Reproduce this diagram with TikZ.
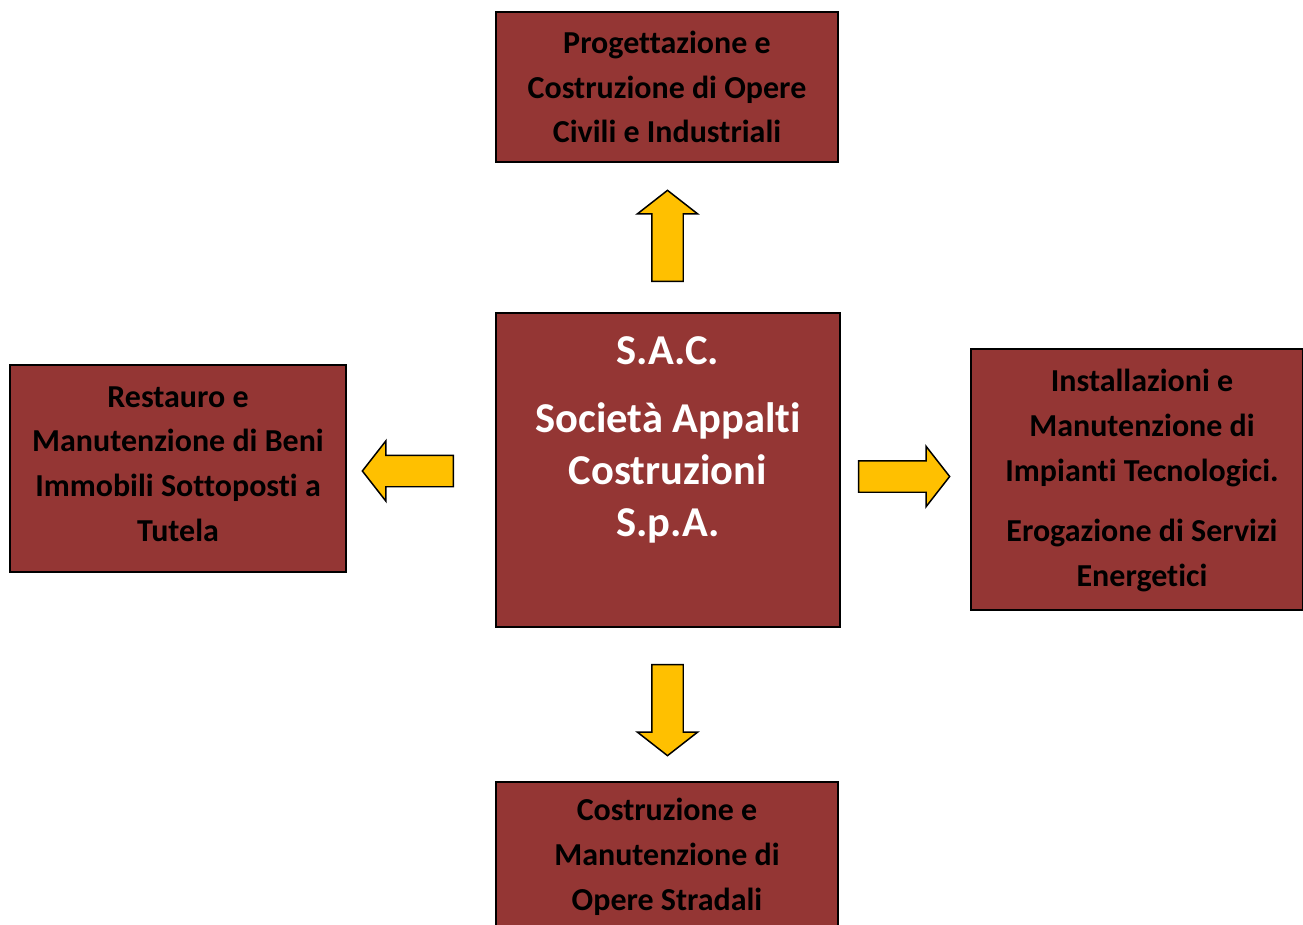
\documentclass[tikz,border=0pt]{standalone}
\usepackage{fontspec}
\setmainfont{Carlito}[Ligatures=NoCommon]
\usepackage{tikz}
\usetikzlibrary{shapes.arrows}
\definecolor{boxred}{HTML}{943634}
\definecolor{arrowgold}{HTML}{FFC000}
\tikzset{
  box/.style={draw, line width=0.85pt, fill=boxred, align=center, inner sep=0pt,
    font=\bfseries\fontsize{18.2}{25.5}\selectfont},
  boxtext/.style={align=center, inner sep=0pt,
    font=\bfseries\fontsize{18.2}{25.5}\selectfont},
  blockarrow/.style={draw, line width=0.85pt, fill=arrowgold, single arrow,
    single arrow head extend=2.9mm, single arrow tip angle=104,
    inner xsep=0pt, inner ysep=3mm, minimum height=18.2mm, outer sep=0pt}
}
\begin{document}
\begin{tikzpicture}[x=0.2mm, y=-0.2mm]
    \useasboundingbox (0,0) rectangle (1303,925);

    \node[box, minimum width=68.4mm, minimum height=30mm] at (667, 87) (prog)
      {Progettazione e\\Costruzione di Opere\\Civili e Industriali};
    \node[box, minimum width=68.8mm, minimum height=62.8mm] at (668, 470) (sac) {};
    \node[anchor=north, text=white, align=center, inner sep=0pt,
      font=\bfseries\fontsize{24.2}{29.5}\selectfont] at (668, 336.5) (sacname)
      {S.A.C.\\[9pt]Società Appalti\\Costruzioni\\S.p.A.};
    \node[box, minimum width=67.2mm, minimum height=41.4mm] at (178, 468.5) (restauro) {};
    \node[boxtext] at (178, 464) (restaurotext)
      {Restauro e\\Manutenzione di Beni\\Immobili Sottoposti a\\Tutela};
    \node[box, minimum width=66.4mm, minimum height=52.2mm] at (1137, 479.5) (impianti) {};
    \node[boxtext] at (1142, 480.5) (impiantitext)
      {Installazioni e\\Manutenzione di\\Impianti Tecnologici.\\[9pt]Erogazione di Servizi\\Energetici};
    \node[box, minimum width=68.4mm, minimum height=30mm] at (667, 857) (strade)
      {Costruzione e\\Manutenzione di\\Opere Stradali};

    % frecce
    \node[blockarrow, rotate=90] at (667.5, 242) (toprog) {};
    \node[blockarrow, rotate=180] at (414, 471) (torestauro) {};
    \node[blockarrow] at (898, 476.5) (toimpianti) {};
    \node[blockarrow, rotate=-90] at (667.5, 704) (tostrade) {};
  \end{tikzpicture}
\end{document}
